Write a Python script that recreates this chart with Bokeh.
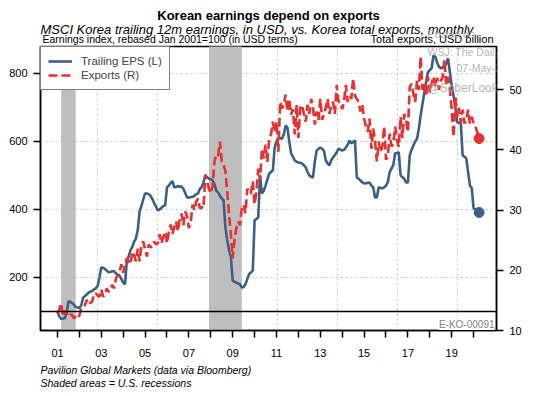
from bokeh.plotting import figure
from bokeh.models import (Range1d, LinearAxis, FixedTicker, Span, Label,
                          Legend, ColumnDataSource)
from bokeh.layouts import column
from bokeh.embed import file_html
from bokeh.resources import INLINE

# ---------------- data (monthly, Jan 2001 .. Apr 2020) ----------------
start_year = 2001

eps_values = [
    100, 85, 78, 79, 80, 95, 130, 128, 125, 120, 113, 112,          # 2001
    110, 118, 140, 145, 150, 155, 158, 160, 165, 168, 175, 200,     # 2002
    230, 228, 225, 220, 215, 216, 218, 218, 212, 208, 205, 195,     # 2003
    185, 180, 250, 262, 280, 290, 305, 315, 340, 395, 410, 430,     # 2004
    447, 447, 445, 440, 430, 418, 408, 397, 400, 405, 410, 412,     # 2005
    465, 470, 478, 483, 465, 466, 468, 467, 467, 460, 448, 435,     # 2006
    435, 436, 437, 440, 445, 447, 460, 465, 480, 500, 495, 490,     # 2007
    488, 485, 475, 455, 450, 440, 432, 427, 348, 310, 280, 260,     # 2008
    190, 188, 185, 182, 180, 170, 172, 180, 195, 210, 215, 220,     # 2009
    368, 372, 377, 500, 447, 455, 470, 488, 505, 510, 515, 582,     # 2010
    600, 608, 610, 608, 620, 647, 640, 600, 565, 555, 544, 540,     # 2011
    538, 537, 535, 530, 524, 510, 500, 496, 494, 540, 573, 578,     # 2012
    582, 578, 573, 544, 535, 530, 545, 553, 560, 568, 579, 576,     # 2013
    573, 575, 582, 590, 603, 594, 598, 603, 494, 490, 485, 480,     # 2014
    476, 477, 478, 479, 470, 465, 435, 435, 465, 463, 462, 465,     # 2015
    470, 480, 509, 520, 530, 565, 566, 568, 500, 495, 490, 479,     # 2016
    479, 559, 575, 588, 600, 608, 638, 677, 710, 744, 775, 803,     # 2017
    810, 815, 853, 850, 832, 820, 815, 818, 818, 830, 844, 803,     # 2018
    765, 735, 700, 656, 655, 653, 559, 555, 550, 510, 470, 462,     # 2019
    403, 400, 395, 391,                                             # 2020
]

export_values = [
    12.8, 13.5, 14.5, 12.3, 13.2, 13.0, 12.3, 12.6, 12.6, 12.0, 12.3, 12.0,  # 2001
    12.5, 13.7, 14.0, 14.2, 15.1, 14.3, 14.6, 14.8, 16.0, 16.2, 15.8, 15.6,  # 2002
    16.8, 15.6, 16.0, 17.0, 16.4, 16.8, 17.6, 17.0, 18.6, 19.2, 19.8, 21.0,  # 2003
    19.6, 21.0, 22.0, 21.5, 21.0, 23.1, 22.5, 21.5, 23.6, 21.5, 24.3, 24.8,  # 2004
    23.5, 22.3, 24.3, 23.8, 24.0, 24.8, 24.3, 24.5, 26.0, 24.5, 25.6, 26.4,  # 2005
    24.5, 26.4, 27.6, 26.0, 27.2, 28.1, 26.5, 28.6, 29.4, 27.5, 29.8, 29.0,  # 2006
    27.0, 28.0, 30.9, 30.0, 31.4, 31.9, 30.3, 30.5, 30.3, 35.9, 34.8, 33.5,  # 2007
    32.8, 34.0, 38.1, 39.2, 39.0, 41.4, 38.1, 37.5, 36.5, 33.0, 29.3, 26.0,  # 2008
    22.0, 25.0, 27.0, 28.1, 27.5, 30.3, 30.9, 29.5, 33.6, 32.8, 32.8, 34.8,  # 2009
    31.0, 33.0, 36.9, 35.0, 40.2, 38.6, 40.9, 38.0, 41.9, 42.6, 44.7, 43.0,  # 2010
    44.7, 39.7, 48.0, 46.9, 47.5, 49.2, 46.4, 48.5, 45.9, 46.8, 42.6, 47.5,  # 2011
    42.0, 47.0, 47.5, 46.0, 44.7, 47.5, 46.0, 48.5, 47.0, 44.2, 46.4, 45.0,  # 2012
    48.5, 45.0, 46.0, 47.0, 48.5, 46.0, 47.5, 48.0, 46.0, 50.8, 48.0, 48.0,  # 2013
    46.8, 48.0, 50.8, 48.0, 49.0, 48.5, 51.9, 49.0, 48.5, 48.0, 46.4, 47.5,  # 2014
    45.2, 44.0, 43.0, 45.2, 40.2, 43.6, 41.5, 38.1, 41.4, 39.7, 40.5, 43.9,  # 2015
    38.4, 38.9, 42.7, 40.6, 41.0, 43.9, 41.7, 40.5, 45.5, 42.0, 46.0, 45.0,  # 2016
    43.0, 50.5, 51.0, 49.4, 48.0, 51.5, 50.0, 55.5, 50.0, 51.0, 49.0, 52.2,  # 2017
    49.5, 51.0, 52.2, 50.5, 52.0, 50.0, 51.5, 52.0, 55.0, 51.0, 52.2, 50.0,  # 2018
    46.7, 42.2, 48.9, 45.5, 47.0, 44.5, 46.7, 44.4, 45.0, 46.7, 44.4, 45.5,  # 2019
    44.5, 43.9, 43.0, 41.9,                                                  # 2020
]

# US recessions (year, month) start / end
recession_start = [(2001, 3), (2007, 12)]
recession_end = [(2001, 11), (2009, 6)]

# x-axis year ticks and labels
tick_years = list(range(2001, 2021))
tick_labels = ["01", "", "03", "", "05", "", "07", "", "09", "", "11", "",
               "13", "", "15", "", "17", "", "19", ""]
# vertical dotted grid positions (decimal years)
vgrid_years = [2002.83, 2005.57, 2008.31, 2011.05, 2013.79, 2016.53, 2019.27]

left_ticks = [200, 400, 600, 800]
right_ticks = [10, 20, 30, 40, 50]

title_text = "Korean earnings depend on exports"
subtitle_text = "MSCI Korea trailing 12m earnings, in USD, vs. Korea total exports, monthly"
left_unit_text = "Earnings index, rebased Jan 2001=100 (in USD terms)"
right_unit_text = "Total exports, USD billion"
source_text = "Pavilion Global Markets (data via Bloomberg)"
note_text = "Shaded areas = U.S. recessions"
chart_code = "E-KO-00091"

# ---------------- styling ----------------
BLUE = "#3B6088"
RED = "#E8302E"
GRAY = "#BEBEBE"
WM = "#A8A8A8"
FONT = "Liberation Sans"
W = 541


def ym(y, m):
    return y + (m - 1) / 12.0


def blank_fig(height):
    f = figure(width=W, height=height, x_range=Range1d(0, W), y_range=Range1d(height, 0),
               x_axis_type=None, y_axis_type=None, output_backend="svg",
               toolbar_location=None, min_border=0, frame_align=False)
    f.outline_line_color = None
    f.grid.visible = False
    f.background_fill_color = "white"
    f.border_fill_color = "white"
    return f


def add_text(f, x, y, text, size, style="normal", align="left", color="black",
             alpha=1.0, units="data", bg=None):
    f.add_layout(Label(x=x, y=y, x_units=units, y_units=units, text=text,
                       text_font=FONT, text_font_size=size, text_font_style=style,
                       text_align=align, text_baseline="middle", text_color=color,
                       text_alpha=alpha, background_fill_color=bg))


# ---------------- header (page y 0..45) ----------------
header = blank_fig(45)
add_text(header, 268, 15, title_text, "13px", "bold", "center")
add_text(header, 40, 28.5, subtitle_text, "13px", "italic")
add_text(header, 42, 38.5, left_unit_text, "10.5px")
add_text(header, 493, 38.5, right_unit_text, "11px", align="right")
add_text(header, 427, 33, "Posted on", "10.5px", color=WM, alpha=0.85)

# ---------------- main chart (page y 45..362) ----------------
x_vals = [start_year + i / 12.0 for i in range(len(eps_values))]
src = ColumnDataSource(dict(x=x_vals, eps=eps_values, exp=export_values))

p = figure(width=W, height=317,
           x_range=Range1d(2000.224, 2021.046), y_range=Range1d(44, 879),
           output_backend="svg", toolbar_location=None, frame_align=False,
           min_border_left=40, min_border_right=45,
           min_border_top=1, min_border_bottom=32)
p.extra_y_ranges = {"exp": Range1d(10, 57.2)}
p.background_fill_color = "white"
p.border_fill_color = "white"
p.outline_line_color = "black"
p.outline_line_width = 1.5

p.xgrid.ticker = FixedTicker(ticks=vgrid_years)
for g in (p.xgrid, p.ygrid):
    g.grid_line_color = "#C4C4C4"
    g.grid_line_dash = "2 3"
    g.grid_line_width = 1


def style_axis(ax):
    ax.axis_line_color = "black"
    ax.axis_line_width = 1.5
    ax.major_tick_line_color = "black"
    ax.major_tick_line_width = 1.5
    ax.major_tick_out = 7
    ax.major_tick_in = 0
    ax.minor_tick_line_color = None
    ax.major_label_text_font = FONT
    ax.major_label_text_font_size = "11px"
    ax.major_label_text_color = "black"


p.yaxis.ticker = FixedTicker(ticks=left_ticks)
style_axis(p.yaxis[0])
p.yaxis.major_label_standoff = 6

p.xaxis.ticker = FixedTicker(ticks=tick_years)
p.xaxis.major_label_overrides = {yr: lab for yr, lab in zip(tick_years, tick_labels)}
style_axis(p.xaxis[0])
p.xaxis.major_label_standoff = 11

rax = LinearAxis(y_range_name="exp", ticker=FixedTicker(ticks=right_ticks))
style_axis(rax)
rax.major_label_standoff = 6
p.add_layout(rax, "right")

# recession shading
p.quad(left=[ym(*s) for s in recession_start], right=[ym(*e) for e in recession_end],
       bottom=0, top=1000, fill_color=GRAY, line_color=None)

# 100 reference line
p.add_layout(Span(location=100, dimension="width", line_color="black", line_width=1.5))

# series
r_eps = p.line("x", "eps", source=src, line_color=BLUE, line_width=2.6)
r_exp = p.line("x", "exp", source=src, y_range_name="exp", line_color=RED,
               line_width=2.6, line_dash="9 4")
p.scatter(x=[x_vals[-1]], y=[eps_values[-1]], size=10, color=BLUE)
p.scatter(x=[x_vals[-1]], y=[export_values[-1]], size=10, color=RED, y_range_name="exp")

legend = Legend(items=[("Trailing EPS (L)", [r_eps]), ("Exports (R)", [r_exp])],
                location="top_left", margin=0, padding=7, spacing=0,
                label_height=14, glyph_height=14, glyph_width=24,
                label_standoff=9, label_text_font=FONT, label_text_font_size="11.5px",
                border_line_color="black", border_line_width=1.5,
                background_fill_color="white", background_fill_alpha=1)
p.add_layout(legend)

# watermark + chart code (screen units relative to frame: left=40, bottom=330 on page)
add_text(p, 387, 279, "WSJ: The Daily Shot", "10.5px", color=WM, alpha=0.85, units="screen")
add_text(p, 416, 263, "07-May-2020", "10.5px", color=WM, alpha=0.85, units="screen")
add_text(p, 387, 243, "@SoberLook", "12px", color=WM, alpha=0.85, units="screen")
add_text(p, 454, 6, chart_code, "10px", align="right", color="#808080",
         units="screen", bg="white")

# ---------------- footer (page y 362..396) ----------------
footer = blank_fig(34)
add_text(footer, 40, 7, source_text, "10.5px", "italic")
add_text(footer, 40, 20, note_text, "10.5px", "italic")

layout = column(header, p, footer, spacing=0)
open("out.html", "w").write(file_html(layout, INLINE))
